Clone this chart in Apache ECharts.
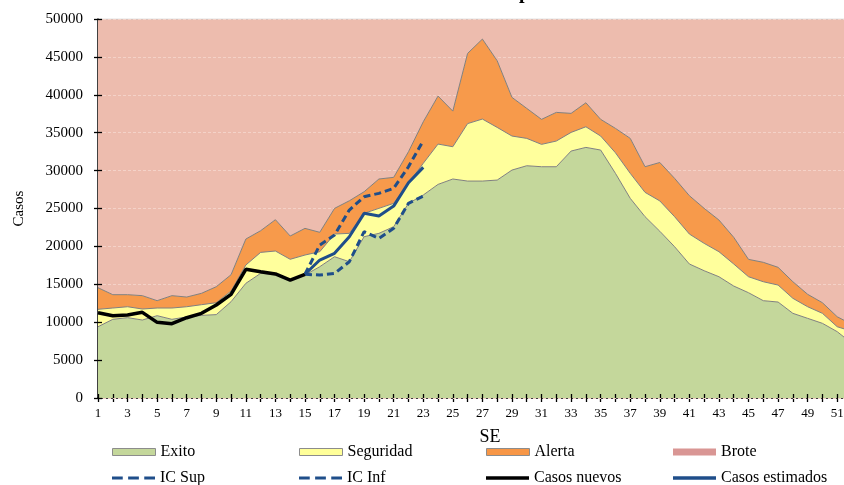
<!DOCTYPE html>
<html>
<head>
<meta charset="utf-8">
<script src="https://cdn.jsdelivr.net/npm/echarts@6/dist/echarts.min.js"></script>
<style>html,body{margin:0;padding:0;background:#fff;overflow:hidden}#c{width:860px;height:485px}</style>
</head>
<body>
<div id="c"></div>
<script>
const weeks = Array.from({length: 52}, (_, i) => String(i + 1));
const yTicks = [0, 5000, 10000, 15000, 20000, 25000, 30000, 35000, 40000, 45000, 50000];

// Stacked band widths (cases) per week
const exito = [9400,10380,10600,10290,10860,10380,10700,10900,11000,12700,15130,16440,16300,15500,16220,17320,18640,17980,21280,21720,22600,25680,26780,28180,28890,28620,28620,28750,30070,30640,30510,30510,32580,33060,32710,29640,26340,23920,22000,19960,17680,16790,16000,14770,13890,12840,12660,11170,10510,9850,8750,7200];
const seguridad = [2300,1490,1440,1450,1010,1490,1340,1410,1570,1400,2410,2770,3090,2800,2640,1980,2990,3740,3080,3300,3080,2640,4180,5320,4260,7580,8180,6950,4490,3610,2950,3390,2460,2720,1850,2710,3300,3210,4000,3960,3950,3610,3300,2910,2110,2500,2240,1980,1530,1320,650,1600];
const alerta = [2850,1760,1590,1760,970,1630,1280,1500,2110,2160,3430,2860,4130,3070,3520,2560,3390,4300,2850,3870,3430,4170,5480,6330,4700,9260,10550,8790,5100,3960,3300,3780,2510,3170,2200,3220,4610,3380,5070,5060,5060,4620,4180,3520,2290,2560,2340,2190,1640,1400,1320,900];
const brote = [35450,36370,36370,36500,37160,36500,36680,36190,35320,33740,29030,27930,26480,28630,27620,28140,24980,23980,22790,21110,20890,17510,13560,10170,12150,4540,2650,5510,10340,11790,13240,12320,12450,11050,13240,14430,15750,19490,18930,21020,23310,24980,26520,28800,31710,32100,32760,34660,36320,37430,39280,40300];

const N = null;
const casosNuevos = [11250,10860,10950,11300,9980,9800,10590,11170,12270,13680,16980,16660,16360,15560,16320,N,N,N,N,N,N,N,N,N,N,N,N,N,N,N,N,N,N,N,N,N,N,N,N,N,N,N,N,N,N,N,N,N,N,N,N,N];
const casosEstimados = [N,N,N,N,N,N,N,N,N,N,N,N,N,N,16320,18200,19090,21280,24360,24010,25320,28400,30430,N,N,N,N,N,N,N,N,N,N,N,N,N,N,N,N,N,N,N,N,N,N,N,N,N,N,N,N,N];
const icSup = [N,N,N,N,N,N,N,N,N,N,N,N,N,N,16320,20180,21500,24800,26550,27000,27660,30510,33940,N,N,N,N,N,N,N,N,N,N,N,N,N,N,N,N,N,N,N,N,N,N,N,N,N,N,N,N,N];
const icInf = [N,N,N,N,N,N,N,N,N,N,N,N,N,N,16320,16220,16440,17980,21940,21060,22380,25680,26640,N,N,N,N,N,N,N,N,N,N,N,N,N,N,N,N,N,N,N,N,N,N,N,N,N,N,N,N,N];

const FONT = 'Liberation Serif';
const BLUE = '#1F4E8A';
const chart = echarts.init(document.getElementById('c'), null, {renderer: 'canvas'});

const yMin = yTicks[0], yMax = yTicks[yTicks.length - 1], yStep = yTicks[1] - yTicks[0];
const baseY = {type: 'value', min: yMin, max: yMax, interval: yStep, position: 'left', offset: 0};
const baseX = {type: 'category', data: weeks, boundaryGap: false, position: 'bottom', offset: 0};

function band(name, data, color, z, lineColor) {
  return {
    name, type: 'line', stack: 'total', data, symbol: 'none', z,
    color,
    lineStyle: {color: lineColor || '#808080', width: 1},
    areaStyle: {color, opacity: 1},
    emphasis: {disabled: true}
  };
}
function ln(name, data, color, width, dashed, z) {
  return {
    name, type: 'line', data, symbol: 'none', showSymbol: false, z, color, connectNulls: false,
    lineStyle: {color, width, type: dashed ? [7, 4] : 'solid', cap: 'butt'},
    emphasis: {disabled: true}
  };
}

const DASH = 'path://M0,0h10v3h-10z M15,0h10v3h-10z M30,0h10v3h-10z';
const legendItems = [
  [{name: 'Exito', icon: 'rect', itemStyle: {color: '#C4D79B', borderColor: '#8c8c8c', borderWidth: 1}}, 0, 0],
  [{name: 'Seguridad', icon: 'rect', itemStyle: {color: '#FFFF99', borderColor: '#8c8c8c', borderWidth: 1}}, 1, 0],
  [{name: 'Alerta', icon: 'rect', itemStyle: {color: '#F79646', borderColor: '#8c8c8c', borderWidth: 1}}, 2, 0],
  [{name: 'Brote', icon: 'rect', itemStyle: {color: '#D99694', borderWidth: 0}}, 3, 0],
  [{name: 'IC Sup', icon: DASH, itemStyle: {color: BLUE, borderWidth: 0}}, 0, 1],
  [{name: 'IC Inf', icon: DASH, itemStyle: {color: BLUE, borderWidth: 0}}, 1, 1],
  [{name: 'Casos nuevos', icon: 'rect', itemStyle: {color: '#000', borderWidth: 0}}, 2, 1],
  [{name: 'Casos estimados', icon: 'rect', itemStyle: {color: BLUE, borderWidth: 0}}, 3, 1]
];
const legends = legendItems.map(([item, col, row]) => ({
  left: 107 + col * 187, top: row ? 465 : 439,
  itemWidth: 43, itemHeight: row ? 3.5 : 7, selectedMode: false,
  textStyle: {fontFamily: FONT, fontSize: 16, color: '#000'},
  data: [item]
}));

chart.setOption({
  animation: false,
  backgroundColor: '#fff',
  grid: {left: 98, top: 19, bottom: 87, right: 8, containLabel: false},
  graphic: [{
    type: 'text', x: 519, y: 3,
    style: {text: 'p', font: 'bold 20px "Liberation Serif"', fill: '#000', verticalAlign: 'bottom'}
  }],
  legend: legends,
  xAxis: [
    Object.assign({}, baseX, {
      name: 'SE', nameLocation: 'middle', nameGap: 30,
      nameTextStyle: {fontFamily: FONT, fontSize: 18, color: '#000', padding: [0, 0, 0, 30]},
      axisLine: {show: true, lineStyle: {color: '#000', width: 1.5}},
      axisTick: {show: true, interval: 0, inside: false, length: 4, lineStyle: {color: '#000', width: 1.3}},
      axisLabel: {interval: 1, fontFamily: FONT, fontSize: 13, color: '#000', margin: 9},
      splitLine: {show: false}
    }),
    Object.assign({}, baseX, {
      axisLine: {show: false},
      axisTick: {show: true, interval: 0, inside: true, length: 4, lineStyle: {color: '#000', width: 1.3}},
      axisLabel: {show: false}, splitLine: {show: false}, z: 10
    })
  ],
  yAxis: [
    Object.assign({}, baseY, {
      name: 'Casos', nameLocation: 'middle', nameGap: 71, nameRotate: 90,
      nameTextStyle: {fontFamily: FONT, fontSize: 15, color: '#000'},
      axisLine: {show: true, lineStyle: {color: '#000', width: 1.5}},
      axisTick: {show: true, inside: false, length: 4, lineStyle: {color: '#000', width: 1.3}},
      axisLabel: {fontFamily: FONT, fontSize: 15, color: '#000', margin: 15, formatter: v => String(v)},
      splitLine: {show: false}
    }),
    Object.assign({}, baseY, {
      axisLine: {show: false}, axisTick: {show: false}, axisLabel: {show: false},
      splitLine: {show: true, lineStyle: {color: '#F4D2C8', width: 1, type: [3, 2]}}, z: 3
    }),
    Object.assign({}, baseY, {
      axisLine: {show: false}, axisLabel: {show: false}, splitLine: {show: false},
      axisTick: {show: true, inside: true, length: 4, lineStyle: {color: '#000', width: 1.3}}, z: 10
    })
  ],
  series: [
    band('Exito', exito, '#C4D79B', 4),
    band('Seguridad', seguridad, '#FFFF9C', 4),
    band('Alerta', alerta, '#F79A4B', 4),
    band('Brote', brote, '#EDBCAE', 2, '#c8c8c8'),
    ln('IC Sup', icSup, BLUE, 3, true, 6),
    ln('IC Inf', icInf, BLUE, 3, true, 6),
    ln('Casos nuevos', casosNuevos, '#000000', 3.5, false, 7),
    ln('Casos estimados', casosEstimados, BLUE, 3, false, 7)
  ]
});
</script>
</body>
</html>
